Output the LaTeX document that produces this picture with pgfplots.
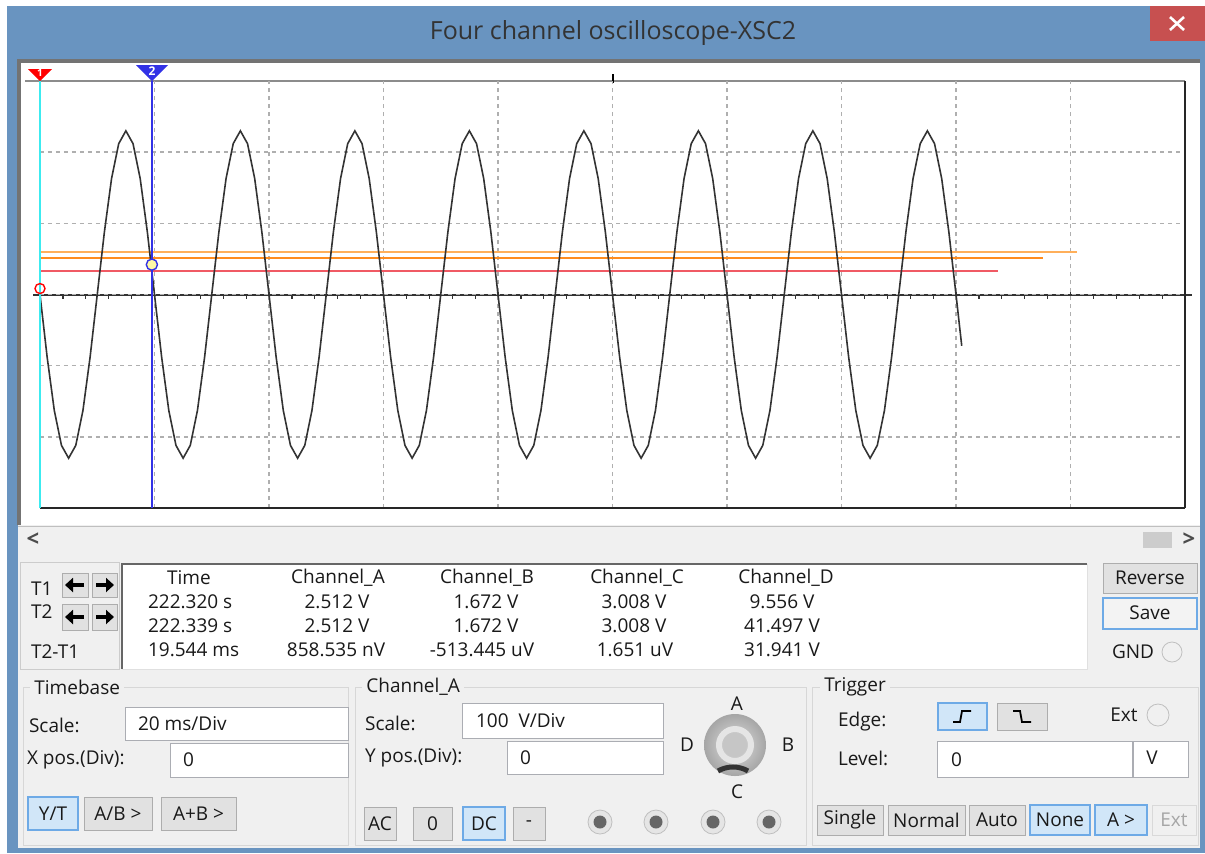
\documentclass[border=0pt]{standalone}
\usepackage{pgfplots}
\pgfplotsset{compat=1.18}
\usetikzlibrary{arrows.meta}
\usepackage{fontspec}
\setmainfont{Open Sans}
\definecolor{winblue}{RGB}{105,148,192}
\definecolor{closered}{RGB}{199,80,80}
\definecolor{panel}{RGB}{240,240,240}
\definecolor{gridgray}{RGB}{175,175,175}
\definecolor{btnfill}{RGB}{225,225,225}
\definecolor{btnline}{RGB}{173,173,173}
\definecolor{selfill}{RGB}{209,230,248}
\definecolor{selline}{RGB}{110,170,230}
\definecolor{boxline}{RGB}{171,173,179}
\definecolor{grpline}{RGB}{215,215,215}
\definecolor{oran1}{RGB}{255,175,90}
\definecolor{oran2}{RGB}{255,140,30}
\definecolor{redtr}{RGB}{240,90,100}
\definecolor{cyancur}{RGB}{60,235,240}
\definecolor{bluecur}{RGB}{50,50,230}
\definecolor{txt}{RGB}{25,25,25}
\newcommand{\btn}[5]{\draw[btnline, fill=btnfill] (#1,#2) rectangle (#3,#4);
  \node at ({(#1+#3)/2},{(#2+#4)/2}) {#5};}
\newcommand{\selbtn}[5]{\draw[selline, fill=selfill, line width=0.8pt] (#1,#2) rectangle (#3,#4);
  \node at ({(#1+#3)/2},{(#2+#4)/2}) {#5};}
\newcommand{\tbox}[4]{\draw[boxline, fill=white] (#1,#2) rectangle (#3,#4);}
\begin{document}
\begin{tikzpicture}[x=0.5pt,y=-0.5pt, font=\fontsize{9.5}{11}\selectfont, text=txt]
\useasboundingbox (0,0) rectangle (1205,853);
% window frame
\fill[white] (0,0) rectangle (1205,853);
\fill[winblue] (7,6) rectangle (1205,853);
\fill[closered] (1150,6) rectangle (1205,41);
\draw[white, line width=1.3pt] (1170,17)--(1184,30) (1170,30)--(1184,17);
\node[text=black!80, font=\fontsize{12.5}{14}\selectfont] at (613,33) {Four channel oscilloscope-XSC2};
\fill[panel] (18,60) rectangle (1200,848);
% plot container
\fill[white] (18,60) rectangle (1200,525);
\draw[black!55, line width=2pt] (19,525) -- (19,61) -- (1200,61);
\draw[black!25] (18,526) -- (1200,526);
% scrollbar
\node[text=black!70, font=\fontsize{11}{12}\selectfont\bfseries] at (33,540) {<};
\node[text=black!70, font=\fontsize{11}{12}\selectfont\bfseries] at (1189,540) {>};
\fill[black!20] (1143,532) rectangle (1172,548);
% center axis ticks
\draw[black!80, line width=0.9pt] (33,295) -- (1192,295);
\foreach \i in {0,...,50} \draw[black!80, line width=0.6pt] ({40+\i*22.9},295) -- ++(0,4);
\foreach \i in {0,...,10} \draw[black!80, line width=0.8pt] ({40+\i*114.5},290) -- ++(0,10);
% plot frame (top, right, bottom) and top centre tick
\draw[black!45, line width=1pt] (25,81) -- (1185,81);
\draw[black, line width=0.9pt] (613,74) -- (613,83);
\coordinate (plotSW) at (40,508);
\begin{axis}[at={(plotSW)}, anchor=south west, scale only axis,
  width=572.5pt, height=213.5pt,
  xmin=0, xmax=200, ymin=-3, ymax=3,
  xtick={20,40,...,180}, ytick={-2,-1,0,1,2},
  xticklabel=\empty, yticklabel=\empty,
  major tick length=0pt,
  grid=major, major grid style={gridgray, dash pattern=on 2pt off 2pt, line width=0.8pt},
  axis line style={draw=none},
  clip=false]
% channel traces B, C, D
\addplot[oran1, line width=1pt] coordinates {(0,0.594) (181.1,0.594)};
\addplot[oran2, line width=1pt] coordinates {(0,0.516) (175.2,0.516)};
\addplot[redtr, line width=1pt] coordinates {(0,0.337) (167.3,0.337)};
% channel A waveform
\addplot[black!80, line width=0.8pt] coordinates {
(0,0) (1.25,-0.88) (2.5,-1.63) (3.75,-2.12) (5,-2.3) (6.25,-2.12) (7.5,-1.63) (8.75,-0.88) (10,0) (11.25,0.88) (12.5,1.63) (13.75,2.12) (15,2.3) (16.25,2.12) (17.5,1.63) (18.75,0.88)
(20,0) (21.25,-0.88) (22.5,-1.63) (23.75,-2.12) (25,-2.3) (26.25,-2.12) (27.5,-1.63) (28.75,-0.88) (30,0) (31.25,0.88) (32.5,1.63) (33.75,2.12) (35,2.3) (36.25,2.12) (37.5,1.63) (38.75,0.88)
(40,0) (41.25,-0.88) (42.5,-1.63) (43.75,-2.12) (45,-2.3) (46.25,-2.12) (47.5,-1.63) (48.75,-0.88) (50,0) (51.25,0.88) (52.5,1.63) (53.75,2.12) (55,2.3) (56.25,2.12) (57.5,1.63) (58.75,0.88)
(60,0) (61.25,-0.88) (62.5,-1.63) (63.75,-2.12) (65,-2.3) (66.25,-2.12) (67.5,-1.63) (68.75,-0.88) (70,0) (71.25,0.88) (72.5,1.63) (73.75,2.12) (75,2.3) (76.25,2.12) (77.5,1.63) (78.75,0.88)
(80,0) (81.25,-0.88) (82.5,-1.63) (83.75,-2.12) (85,-2.3) (86.25,-2.12) (87.5,-1.63) (88.75,-0.88) (90,0) (91.25,0.88) (92.5,1.63) (93.75,2.12) (95,2.3) (96.25,2.12) (97.5,1.63) (98.75,0.88)
(100,0) (101.25,-0.88) (102.5,-1.63) (103.75,-2.12) (105,-2.3) (106.25,-2.12) (107.5,-1.63) (108.75,-0.88) (110,0) (111.25,0.88) (112.5,1.63) (113.75,2.12) (115,2.3) (116.25,2.12) (117.5,1.63) (118.75,0.88)
(120,0) (121.25,-0.88) (122.5,-1.63) (123.75,-2.12) (125,-2.3) (126.25,-2.12) (127.5,-1.63) (128.75,-0.88) (130,0) (131.25,0.88) (132.5,1.63) (133.75,2.12) (135,2.3) (136.25,2.12) (137.5,1.63) (138.75,0.88)
(140,0) (141.25,-0.88) (142.5,-1.63) (143.75,-2.12) (145,-2.3) (146.25,-2.12) (147.5,-1.63) (148.75,-0.88) (150,0) (151.25,0.88) (152.5,1.63) (153.75,2.12) (155,2.3) (156.25,2.12) (157.5,1.63) (158.75,0.88)
(160,0) (161,-0.72)};
\draw[black!85, line width=1.2pt] (axis cs:200,3) -- (axis cs:200,-3);
\draw[black!85, line width=1pt] (axis cs:0,-3) -- (axis cs:200,-3);
% cursors
\addplot[cyancur, line width=1.2pt] coordinates {(0,-3) (0,3)};
\addplot[bluecur, line width=1.2pt] coordinates {(19.544,-3) (19.544,3)};
\addplot[only marks, mark=o, mark size=2.5pt, mark options={red, line width=0.7pt}] coordinates {(0,0.084)};
\addplot[only marks, mark=*, mark size=2.8pt, mark options={draw=bluecur, fill=yellow!35, line width=0.7pt}] coordinates {(19.544,0.42)};
\end{axis}
% cursor flags
\fill[red] (40,81) -- (28,69) -- (52,69) -- cycle;
\node[white, font=\fontsize{5}{5}\selectfont\bfseries, inner sep=0pt] at (40,73) {1};
\fill[bluecur] (152,81) -- (136,65) -- (168,65) -- cycle;
\node[white, font=\fontsize{6}{6}\selectfont\bfseries, inner sep=0pt] at (152,71) {2};
% readout area
\draw[black!20, fill=panel] (20,562) rectangle (119,669);
\node[anchor=west] at (24,589) {T1};
\node[anchor=west] at (24,612) {T2};
\node[anchor=west] at (24,652) {T2-T1};
\btn{62}{573}{88}{597}{}
\btn{92}{573}{117}{597}{}
\btn{62}{604}{88}{630}{}
\btn{92}{604}{117}{630}{}
\foreach \yy in {585,617} {
  \draw[line width=1.8pt, -{Triangle[length=4pt,width=7pt]}] (84,\yy) -- (65,\yy);
  \draw[line width=1.8pt, -{Triangle[length=4pt,width=7pt]}] (96,\yy) -- (114,\yy);
}
\fill[white] (122,564) rectangle (1087,669);
\draw[black!60, line width=1.4pt] (122,669) -- (122,564) -- (1087,564);
\draw[black!12] (122,669) -- (1087,669) -- (1087,564);
\node at (189,578) {Time};
\node[anchor=west] at (141,602) {222.320 s};
\node[anchor=west] at (141,626) {222.339 s};
\node[anchor=west] at (141,650) {19.544 ms};
\node at (338,578) {Channel\_A};
\node at (337,602) {2.512 V};
\node at (337,626) {2.512 V};
\node at (336,650) {858.535 nV};
\node at (487,578) {Channel\_B};
\node at (486,602) {1.672 V};
\node at (486,626) {1.672 V};
\node at (482,650) {-513.445 uV};
\node at (637,578) {Channel\_C};
\node at (634,602) {3.008 V};
\node at (634,626) {3.008 V};
\node at (635,650) {1.651 uV};
\node at (786,578) {Channel\_D};
\node at (782,602) {9.556 V};
\node at (782,626) {41.497 V};
\node at (782,650) {31.941 V};
\btn{1103}{563}{1197}{593}{Reverse}
\draw[selline, fill=white!60!btnfill, line width=0.9pt] (1103,598) rectangle (1197,629);
\node at (1150,613) {Save};
\node at (1133,652) {GND};
\draw[black!25, fill=panel] (1172,652) circle (10);
% group boxes
\draw[grpline] (23,687) rectangle (348,845);
\node[fill=panel, inner sep=2pt, anchor=west] at (30,687) {Timebase};
\draw[grpline] (355,687) rectangle (806,845);
\node[fill=panel, inner sep=2pt, anchor=west] at (362,687) {Channel\_A};
\draw[grpline] (812,687) rectangle (1198,845);
\node[fill=panel, inner sep=2pt, anchor=west] at (820,687) {Trigger};
% timebase
\node[anchor=west] at (22,725) {Scale:};
\tbox{125}{707}{348}{740}
\node[anchor=west] at (131,724) {20 ms/Div};
\node[anchor=west] at (20,760) {X pos.(Div):};
\tbox{170}{743}{348}{777}
\node[anchor=west] at (176,760) {0};
\selbtn{28}{797}{78}{830}{Y/T}
\btn{84}{797}{152}{830}{A/B >}
\btn{161}{797}{236}{830}{A+B >}
% channel A
\node[anchor=west] at (358,723) {Scale:};
\tbox{462}{703}{663}{738}
\node[anchor=west] at (469,721) {100~~V/Div};
\node[anchor=west] at (358,758) {Y pos.(Div):};
\tbox{507}{741}{663}{774}
\node[anchor=west] at (513,758) {0};
\shade[inner color=gray!25, outer color=gray!70] (735,745) circle (31);
\draw[white!80!gray, line width=3pt] (735,745) circle (16);
\fill[gray!45] (735,745) circle (12);
\draw[black!80, line width=2.5pt] (718,771) arc[start angle=-120, end angle=-60, radius=30];
\node at (737,704) {A};
\node at (788,745) {B};
\node at (737,792) {C};
\node at (687,745) {D};
\btn{364}{807}{396}{840}{AC}
\btn{413}{807}{452}{840}{0}
\selbtn{463}{807}{505}{840}{DC}
\btn{513}{807}{545}{840}{-}
\foreach \xx in {600,656,713,769} {
  \fill[black!10] (\xx,822) circle (12);
  \draw[black!25] (\xx,822) circle (12);
  \fill[black!60] (\xx,822) circle (6.5);
}
% trigger
\node[anchor=west] at (831,722) {Edge:};
\selbtn{938}{703}{987}{730}{}
\draw[black, line width=0.9pt] (953,722) -- (960,722) -- (962,711) -- (971,711);
\btn{997}{703}{1047}{730}{}
\draw[black, line width=0.9pt] (1013,711) -- (1020,711) -- (1022,722) -- (1031,722);
\node at (1124,715) {Ext};
\draw[black!25, fill=panel] (1158,715) circle (11);
\node[anchor=west] at (831,758) {Level:};
\tbox{937}{741}{1132}{777}
\node[anchor=west] at (944,760) {0};
\tbox{1133}{741}{1188}{777}
\node at (1152,758) {V};
\btn{817}{805}{883}{835}{Single}
\btn{888}{805}{965}{835}{Normal}
\btn{969}{805}{1025}{835}{Auto}
\selbtn{1030}{805}{1090}{835}{None}
\selbtn{1095}{805}{1147}{835}{A >}
\draw[black!15, fill=panel] (1152,805) rectangle (1196,835);
\node[text=black!35] at (1174,820) {Ext};
\end{tikzpicture}
\end{document}
